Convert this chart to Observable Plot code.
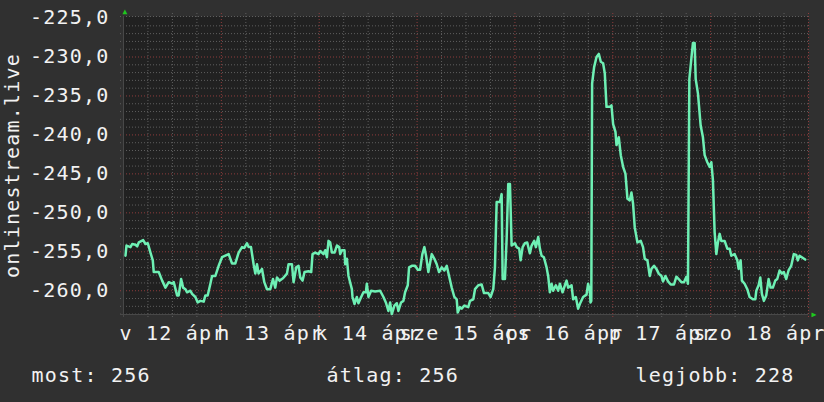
<!DOCTYPE html>
<html><head><meta charset="utf-8">
<script src="https://cdn.jsdelivr.net/npm/d3@7"></script>
<script src="https://cdn.jsdelivr.net/npm/@observablehq/plot@0.6"></script>
<style>
html,body{margin:0;padding:0;background:#303030;}
#chart{width:824px;height:402px;overflow:hidden;}
</style></head><body><div id="chart"></div>
<script>
const startDate = "2020-04-12T00:00:00Z";
const endDate = "2020-04-19T00:00:00Z";
const dayLabels = ["v 12 ápr","h 13 ápr","k 14 ápr","sze 15 ápr","cs 16 ápr","p 17 ápr","szo 18 ápr"];
const yTicks = [-260,-255,-250,-245,-240,-235,-230,-225];
const yDomain = [-263.05, -224.8];
const yTitle = "onlinestream.live";
const legendLabels = ["most","átlag","legjobb"];
const legendValues = [256,256,228];

// hours since start, values
const hours = [
0.49,0.73,1.71,2.13,2.94,3.36,3.75,4.82,5.39,5.95,
6.61,7.18,7.42,8.64,9.48,10.29,11.09,11.93,12.32,13.15,
13.54,14.13,14.62,15.18,15.60,16.41,16.82,17.63,18.20,18.86,
19.67,20.08,20.64,21.31,21.72,22.53,23.34,24.17,24.98,25.79,
26.62,27.43,28.24,29.07,29.63,30.29,30.69,31.27,31.91,32.33,
32.74,33.13,33.97,34.53,35.19,36.00,36.66,37.22,37.64,38.28,
39.11,40.09,40.48,41.31,41.71,42.37,
42.93,43.35,43.91,44.40,45.38,46.04,46.36,47.02,47.83,48.25,
49.05,49.47,49.89,50.28,50.69,51.11,51.75,52.34,52.90,53.14,
53.56,54.20,54.37,54.79,55.18,56.01,56.16,56.65,57.23,57.62,
58.29,58.85,59.44,59.68,60.07,60.73,61.71,62.94,63.75,64.34,
64.97,65.39,65.80,66.44,67.03,67.42,68.08,68.65,69.06,69.72,
70.04,70.70,71.51,72.17,72.74,73.30,73.79,74.20,74.77,75.60,
76.24,76.82,77.39,78.05,78.69,79.28,79.84,80.50,81.14,81.72,
81.97,82.53,82.95,83.59,84.56,84.98,85.79,
86.21,87.02,87.85,88.41,89.46,90.05,90.69,91.10,91.52,92.33,
92.74,92.99,93.55,93.97,94.36,94.78,95.19,96.00,96.42,97.05,
97.40,97.89,98.45,99.01,99.67,100.09,100.73,101.14,101.71,102.12,
102.54,103.10,103.76,104.15,104.57,104.99,105.38,106.04,106.61,107.02,
107.68,108.25,108.66,109.06,109.89,110.28,110.94,111.50,112.09,112.73,
113.56,113.95,114.37,114.54,
114.73,114.93,115.42,116.01,116.57,117.06,117.63,118.04,118.46,119.27,
119.68,120.08,120.66,120.91,121.47,121.96,122.53,123.11,123.60,124.17,
124.58,124.97,125.39,126.05,126.86,127.42,127.84,128.50,129.06,129.48,
130.12,130.70,131.27,131.93,132.32,132.91,133.55,134.21,135.01,135.60,
136.16,136.82,137.46,138.05,138.44,138.78,139.27,139.66,140.08,140.33,
140.89,141.55,142.11,142.53,143.19,143.76,144.17,144.56,144.98,145.40,
145.79,146.21,146.62,147.43,148.09,148.65,149.07,149.88,150.54,150.86,
151.35,151.67,152.33,152.99,153.55,154.36,154.95,155.20,155.76,156.17,
156.57,157.06,157.64,158.21,158.70,159.26,159.85,160.34,160.90,161.47,
161.96,162.54,163.10,163.76,164.40,164.99,165.38,165.80,166.36,167.19
];
const values = [
-255.5,-254.2,-254.4,-254.0,-254.1,-254.3,-253.8,-253.5,-254.0,-253.9,
-255.1,-256.1,-257.6,-257.6,-258.7,-259.6,-258.9,-259.1,-258.9,-260.6,
-260.6,-258.5,-259.6,-259.8,-260.2,-260.0,-260.4,-260.8,-261.5,-261.3,
-261.4,-260.6,-260.6,-259.1,-258.1,-258.1,-256.8,-255.7,-255.5,-255.3,
-256.5,-256.5,-255.1,-254.4,-254.5,-253.9,-254.4,-254.4,-256.6,-257.8,
-256.6,-257.8,-257.2,-258.9,-259.8,-259.8,-258.5,-259.6,-258.3,-258.7,
-258.4,-257.8,-256.6,-256.6,-258.9,-257.0,
-256.8,-258.3,-258.7,-257.6,-257.5,-257.6,-255.3,-255.1,-255.3,-254.9,
-255.3,-254.8,-255.7,-253.6,-253.8,-255.1,-255.1,-254.2,-254.4,-255.3,
-254.8,-254.8,-256.6,-255.9,-258.1,-259.8,-260.8,-261.7,-260.8,-261.6,
-260.8,-260.2,-260.2,-259.1,-260.8,-260.0,-260.1,-260.0,-260.8,-261.5,
-262.6,-261.5,-263.0,-261.9,-261.6,-262.6,-261.5,-261.3,-260.2,-259.3,
-257.0,-256.8,-256.8,-257.3,-257.3,-255.3,-254.4,-255.5,-257.6,-255.3,
-255.9,-256.6,-257.6,-257.0,-257.4,-256.8,-258.1,-259.6,-260.8,-261.1,
-262.8,-262.1,-262.3,-261.9,-262.1,-261.3,-261.1,
-259.8,-259.3,-259.2,-260.3,-260.3,-260.8,-259.8,-257.0,-248.6,-248.6,
-247.6,-258.5,-258.5,-253.3,-246.3,-246.3,-254.2,-253.9,-254.4,-254.6,
-256.1,-254.4,-253.9,-253.8,-255.2,-254.2,-253.6,-254.4,-253.1,-254.6,
-255.5,-255.7,-257.0,-258.1,-260.2,-259.1,-260.0,-259.3,-260.0,-259.1,
-260.2,-259.3,-258.7,-259.6,-259.3,-261.1,-260.8,-262.3,-261.5,-260.8,
-260.5,-259.1,-260.0,-261.5,
-261.3,-233.4,-231.3,-230.0,-229.6,-230.6,-230.8,-232.1,-236.4,-236.4,
-236.2,-238.6,-239.6,-241.3,-240.3,-242.6,-244.1,-245.0,-248.2,-248.4,
-247.4,-248.8,-251.9,-253.8,-253.6,-254.4,-255.9,-256.1,-258.1,-257.2,
-256.8,-257.2,-257.8,-258.1,-258.8,-258.1,-258.8,-259.2,-259.2,-258.2,
-258.5,-258.9,-258.9,-258.2,-259.1,-232.8,-230.2,-228.2,-228.2,-232.8,
-234.7,-238.8,-240.3,-242.6,-243.5,-244.1,-243.5,-245.8,-252.5,-255.3,
-253.8,-252.7,-253.6,-253.6,-254.6,-254.6,-255.5,-255.3,-256.1,-257.2,
-256.1,-258.7,-259.1,-259.8,-260.8,-261.1,-261.1,-260.0,-259.3,-258.3,
-260.4,-261.3,-260.6,-258.5,-259.6,-259.6,-258.7,-258.5,-257.4,-257.8,
-257.6,-258.5,-257.4,-256.8,-255.3,-255.4,-256.1,-255.5,-255.7,-256.0
];

const H = 3600e3;
const t0 = new Date(startDate), t1 = new Date(endDate);
const data = hours.map((h, i) => ({t: new Date(+t0 + h * H), v: values[i]}));
const noon = dayLabels.map((l, i) => ({t: new Date(+t0 + (i * 24 + 12) * H), label: l}));
const sixH = d3.range(0, 7 * 24 + 1, 6).map(h => new Date(+t0 + h * H));
const minorX = sixH.filter((d, i) => i % 4 !== 0);
const majorX = sixH.filter((d, i) => i % 4 === 0 && i > 0);
const intY = d3.range(Math.ceil(yDomain[0]), -225);
const majorY = intY.filter(v => v % 5 === 0);
const minorY = intY.filter(v => v % 5 !== 0);

const gridGrey = "#5e5e5e", gridRed = "#8e3c3c", lineCol = "#6ef0b4", arrowCol = "#1ec81e";
const fmt = d => d.toFixed(1).replace(".", ",");

const chart = Plot.plot({
  width: 824, height: 402,
  marginLeft: 123, marginRight: 16, marginTop: 16, marginBottom: 88,
  style: {background: "#303030", color: "#f2f2f2", fontFamily: "'DejaVu Sans Mono', monospace", fontSize: "20px", letterSpacing: "1.2px", overflow: "visible"},
  x: {type: "utc", domain: [t0, t1], axis: null},
  y: {domain: yDomain, axis: null},
  marks: [
    Plot.frame({fill: "#212121", stroke: null}),
    Plot.ruleY(minorY, {stroke: gridGrey, strokeDasharray: "1,2", insetLeft: -3, insetRight: -2}),
    Plot.ruleX(minorX, {stroke: gridGrey, strokeDasharray: "1,2", insetTop: -3, insetBottom: -3}),
    Plot.ruleY([yDomain[1]], {stroke: gridGrey, strokeDasharray: "1,2", insetLeft: -3, insetRight: -2}),
    Plot.ruleY(majorY, {stroke: gridRed, strokeDasharray: "1,2", insetLeft: -3, insetRight: -2}),
    Plot.ruleX(majorX, {stroke: gridRed, strokeDasharray: "1,2", insetTop: -3, insetBottom: -3}),
    Plot.ruleY([yDomain[0]], {stroke: "#484848", insetLeft: -3}),
    Plot.ruleX([t0], {stroke: "#484848", insetBottom: -3}),
    Plot.line(data, {x: "t", y: "v", stroke: lineCol, strokeWidth: 2.5}),
    Plot.axisY({ticks: yTicks, tickSize: 0, tickPadding: 14, tickFormat: fmt, fontSize: 20, label: null}),
    Plot.text(noon, {x: "t", text: "label", frameAnchor: "bottom", textAnchor: "middle", lineAnchor: "middle", dy: 18.6, fontSize: 20}),
    Plot.text([yTitle], {frameAnchor: "left", textAnchor: "middle", lineAnchor: "middle", rotate: -90, dx: -111, fontSize: 20}),
    Plot.text([`${legendLabels[0]}: ${legendValues[0]}`], {frameAnchor: "bottom-left", textAnchor: "start", lineAnchor: "middle", dx: -92, dy: 60.6, fontSize: 20}),
    Plot.text([`${legendLabels[1]}: ${legendValues[1]}`], {frameAnchor: "bottom-left", textAnchor: "start", lineAnchor: "middle", dx: 203, dy: 60.6, fontSize: 20}),
    Plot.text([`${legendLabels[2]}: ${legendValues[2]}`], {frameAnchor: "bottom-left", textAnchor: "start", lineAnchor: "middle", dx: 512, dy: 60.6, fontSize: 20}),
    Plot.text(["▲"], {frameAnchor: "top-left", textAnchor: "middle", lineAnchor: "middle", dx: 2, dy: -5, fill: arrowCol, fontSize: 8}),
    Plot.text(["▶"], {frameAnchor: "bottom-right", textAnchor: "middle", lineAnchor: "middle", dx: 6, fill: arrowCol, fontSize: 8})
  ]
});
document.getElementById("chart").appendChild(chart);
</script></body></html>
